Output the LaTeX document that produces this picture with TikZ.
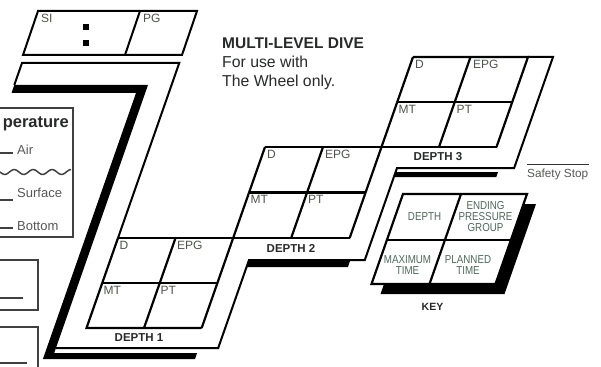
\documentclass[tikz,border=0pt]{standalone}
\usepackage{fontspec}
\setmainfont{Liberation Sans}
\newfontfamily\condfont[FakeStretch=0.85]{Liberation Sans}
\usetikzlibrary{calc}
\definecolor{labelgray}{RGB}{78,84,76}
\definecolor{keytext}{RGB}{80,104,92}
\definecolor{darktext}{RGB}{40,42,42}
\definecolor{paneltext}{RGB}{85,88,85}
\begin{document}
\begin{tikzpicture}[x=1pt,y=-1pt,line join=miter,
  frameline/.style={line width=2pt,black},
  gridline/.style={line width=2.2pt,black},
  panelline/.style={line width=1.3pt,black!75},
  lbl/.style={font=\fontsize{12}{12}\selectfont,text=labelgray,inner sep=0pt,anchor=north west},
  depthlbl/.style={font=\fontsize{11.5}{12}\selectfont\bfseries,text=darktext,inner sep=0pt},
  keylbl/.style={font=\condfont\fontsize{11.5}{12.5}\selectfont,text=keytext,inner sep=0pt,align=center},
  paneltxt/.style={font=\fontsize{13}{14}\selectfont,text=paneltext,inner sep=0pt,anchor=base west},
  titletxt/.style={font=\fontsize{15.8}{16}\selectfont,text=darktext,inner sep=0pt,anchor=base west}]
\useasboundingbox (0,0) rectangle (601,366);
\fill[white] (0,0) rectangle (601,366);

% ---------- left panel ----------
\draw[panelline] (-5,108) rectangle (73,237);
\node[font=\fontsize{16.5}{17}\selectfont\bfseries,text=darktext,inner sep=0pt,anchor=base east] (temp) at (69,128) {perature};
\draw[panelline] (-5,153) -- (13,153);
\node[paneltxt] (air) at (17,154) {Air};
\draw[panelline,line width=1.5pt] plot[domain=0:71,samples=120] (\x,{172+2.4*sin(\x*19)});
\draw[panelline] (-5,200) -- (13,200);
\node[paneltxt] (surface) at (17,197) {Surface};
\draw[panelline] (-5,228) -- (13,228);
\node[paneltxt] (bottom) at (17,230) {Bottom};
\draw[panelline] (-5,260) rectangle (38,310);
\draw[panelline] (-5,298) -- (23,298);
\draw[panelline] (-5,327) rectangle (38,372);
\draw[panelline] (-5,363) -- (27,363);

% ---------- SI / PG box ----------
\draw[frameline] (38,11) -- (197,11) -- (182,55) -- (23,55) -- cycle;
\draw[frameline] (140,11) -- (125,55);
\fill (83,24) rectangle (89,30);
\fill (83,40) rectangle (89,46);
\node[lbl] (si) at (41,14) {SI};
\node[lbl] (pg) at (143,14) {PG};

% ---------- title ----------
\node[titletxt,font=\fontsize{15.5}{16}\selectfont\bfseries] (title) at (222,49) {MULTI-LEVEL DIVE};
\node[titletxt] (use1) at (222,68) {For use with};
\node[titletxt] (use2) at (222,87) {The Wheel only.};

% ---------- thick lower-left border of the ribbon ----------
\fill (14.3,85) -- (148,85) -- (54.2,353) -- (197,353) -- (195,359) -- (42.9,359) -- (136,93) -- (11.5,93) -- cycle;
% shadows under depth 2 and depth 3 strips
\fill (395.6,172) -- (498,172) -- (496.3,177) -- (393.85,177) -- cycle;
\fill (248.65,261) -- (350,261) -- (347.9,267) -- (246.55,267) -- cycle;

% ---------- ribbon outline (thin) ----------
\draw[frameline] (14.3,85) -- (22,63) -- (179.25,63) -- (118,238);
\draw[frameline] (528,57) -- (553,57) -- (514.15,168) -- (397,168) -- (364.8,260) -- (249,260) -- (218.2,348) -- (56,348);

% ---------- grids ----------
% depth 3
\draw[gridline] (413,57) -- (528,57) -- (496.5,147);
\draw[gridline] (397.25,102) -- (512.25,102);
\draw[gridline] (470.5,57) -- (439,147);
% shared long lines
\draw[gridline] (413,57) -- (349.65,238);
\draw[gridline] (265,147) -- (496.5,147);
\draw[gridline] (265,147) -- (201.65,328);
\draw[gridline] (118,238) -- (349.65,238);
% depth 2
\draw[gridline] (249.1,192.5) -- (365.6,192.5);
\draw[gridline] (323,147) -- (291.15,238);
% depth 1
\draw[gridline] (118,238) -- (86.5,328) -- (201.65,328);
\draw[gridline] (102.25,283) -- (217.4,283);
\draw[gridline] (175.5,238) -- (144,328);

% ---------- grid labels ----------
\node[lbl] (d3d) at (415,60) {D};
\node[lbl] (d3e) at (473,60) {EPG};
\node[lbl] (d3m) at (398.5,105.5) {MT};
\node[lbl] (d3p) at (456.5,105.5) {PT};
\node[lbl] (d2d) at (267,150) {D};
\node[lbl] (d2e) at (325,150) {EPG};
\node[lbl] (d2m) at (250.5,195.5) {MT};
\node[lbl] (d2p) at (308,195.5) {PT};
\node[lbl] (d1d) at (119.5,241) {D};
\node[lbl] (d1e) at (177,241) {EPG};
\node[lbl] (d1m) at (103.5,286.5) {MT};
\node[lbl] (d1p) at (160.5,286.5) {PT};

\node[depthlbl] (dep3) at (438,157) {DEPTH 3};
\node[depthlbl] (dep2) at (291,248) {DEPTH 2};
\node[depthlbl] (dep1) at (139,338) {DEPTH 1};

% ---------- safety stop ----------
\draw[line width=1pt,black!80] (527,164) -- (589,164);
\node[font=\fontsize{11.8}{12}\selectfont,text=paneltext,inner sep=0pt,anchor=base west] (safety) at (527,177) {Safety Stop};

% ---------- key ----------
\fill ($(403,194)+(9,10)$) -- ($(527,194)+(9,10)$) -- ($(495.5,284)+(9,10)$) -- ($(371.5,284)+(9,10)$) -- cycle;
\draw[gridline,fill=white] (403,194) -- (527,194) -- (495.5,284) -- (371.5,284) -- cycle;
\draw[gridline] (386.9,240) -- (510.9,240);
\draw[gridline] (461,194) -- (429.5,284);
\node[keylbl] (kdepth) at (424.5,217) {DEPTH};
\node[keylbl] (kepg) at (485.5,216.5) {ENDING\\[-1.5pt]PRESSURE\\[-1.5pt]GROUP};
\node[keylbl] (kmt) at (407.5,265) {MAXIMUM\\[-1pt]TIME};
\node[keylbl] (kpt) at (468,265) {PLANNED\\[-1pt]TIME};
\node[depthlbl,font=\fontsize{10.5}{11}\selectfont\bfseries] (key) at (432.5,307) {KEY};
\end{tikzpicture}
\end{document}
